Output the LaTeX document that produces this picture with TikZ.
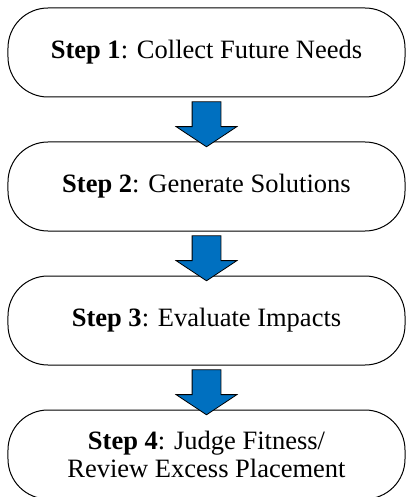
\documentclass[tikz,border=0pt]{standalone}
\usepackage{fontspec}
\setmainfont{Liberation Serif}
\usetikzlibrary{positioning,shapes.arrows,calc}
\definecolor{stepblue}{HTML}{0070C0}
\begin{document}
\begin{tikzpicture}[x=1pt,y=1pt,
  stepbox/.style={draw, line width=1pt, rounded corners=40pt, minimum width=397pt,
    minimum height=89pt, align=center, font=\fontsize{26.5}{28.5}\selectfont},
  flowarrow/.style={shape=single arrow, draw, fill=stepblue, line width=0.8pt, rotate=-90,
    inner xsep=0pt, inner ysep=14pt, minimum height=45pt, single arrow head extend=16pt,
    single arrow tip angle=113}]
\useasboundingbox (-206.5,52.5) rectangle (200.5,-444.5);
\node[stepbox] (s1) at (0,0) {\textbf{Step 1}: Collect Future Needs};
\node[stepbox, below=44pt of s1] (s2) {\textbf{Step 2}: Generate Solutions};
\node[stepbox, below=44pt of s2] (s3) {\textbf{Step 3}: Evaluate Impacts};
\node[stepbox, below=44pt of s3] (s4) {\textbf{Step 4}: Judge Fitness/\\Review Excess Placement};
% block arrows between the steps
\node[flowarrow] (a1) at ($(s1.south)!0.5!(s2.north)$) {};
\node[flowarrow] (a2) at ($(s2.south)!0.5!(s3.north)$) {};
\node[flowarrow] (a3) at ($(s3.south)!0.5!(s4.north)$) {};
\end{tikzpicture}
\end{document}
